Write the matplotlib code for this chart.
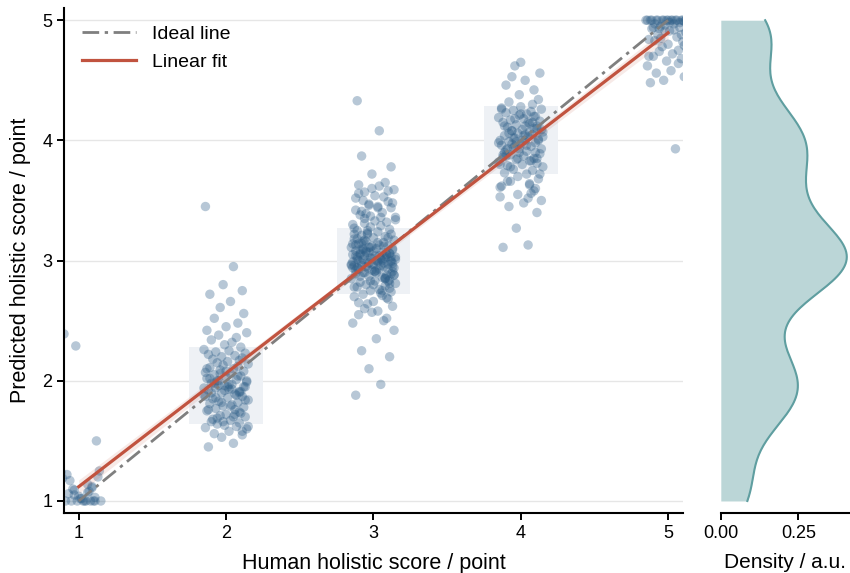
import matplotlib
matplotlib.use('Agg')

import numpy as np
import matplotlib.pyplot as plt
import seaborn as sns

plt.rcParams['font.family'] = ['Liberation Sans', 'DejaVu Sans']

# Human holistic scores (x categories)
scores = [1, 2, 3, 4, 5]

# horizontal jitter of each point, shared by all groups
jitter = [
    -0.12, 0.05, -0.03, 0.11, -0.08, 0.02, 0.14, -0.14, 0.07, -0.01,
    0.09, -0.10, 0.03, -0.06, 0.13, -0.04, 0.00, 0.10, -0.13, 0.06,
    -0.07, 0.12, -0.02, 0.04, -0.11, 0.08, -0.05, 0.15, -0.09, 0.01,
    0.11, -0.15, 0.06, -0.03, 0.09, -0.12, 0.02, -0.07, 0.13, -0.01,
    0.04, -0.10, 0.14, -0.05, 0.07, -0.13, 0.00, 0.10, -0.08, 0.03,
    -0.14, 0.12, -0.04, 0.05, -0.11, 0.08, -0.02, 0.15, -0.06, 0.01,
    0.09, -0.09, 0.11, -0.03, 0.06, -0.12, 0.13, -0.07, 0.02, -0.15,
    0.10, -0.01, 0.04, -0.10, 0.07, -0.05, 0.14, -0.13, 0.00, 0.08,
    -0.08, 0.12, -0.04, 0.03, -0.11, 0.11, -0.02, 0.05, -0.14, 0.09,
    0.01, -0.06, 0.15, -0.09, 0.06, -0.12, 0.03, -0.03, 0.13, -0.07,
    0.07, -0.10, 0.10, -0.01, 0.04, -0.15, 0.12, -0.05, 0.02, -0.08,
    0.14, -0.11, 0.08, -0.04, 0.00, -0.13, 0.11, -0.06, 0.05, -0.02,
    0.09, -0.14, 0.06, -0.09, 0.13, -0.03, 0.01, -0.12, 0.10, -0.07,
    0.03, -0.10, 0.15, -0.05, 0.08, -0.01, 0.12, -0.08, 0.04, -0.11,
    0.06, -0.13, 0.11, -0.02, 0.08, -0.09, 0.14, -0.06, 0.01, -0.12,
    0.10, -0.04, 0.13, -0.08, 0.05, -0.15, 0.07, -0.03, 0.12, -0.10,
    0.02, -0.07, 0.15, -0.01, 0.09, -0.11, 0.04, -0.14, 0.11, -0.05,
    0.00, -0.09, 0.13, -0.02, 0.07, -0.12, 0.03, -0.06, 0.10, -0.13,
    -0.04, 0.08, -0.11, 0.05, -0.07, 0.12, -0.01, 0.09, -0.14, 0.03,
    0.05, -0.08, 0.12, -0.03, 0.10, -0.12, 0.01, -0.06, 0.14, -0.10,
]

# Predicted holistic scores per human score group
pred_1 = [1.24, 1.00, 1.05, 1.00, 1.22, 1.02, 1.25, 1.26, 1.08, 1.00,
          1.12, 2.39, 1.00, 1.17, 1.20, 1.10, 1.04, 1.00, 1.21, 1.14,
          1.06, 1.50, 2.29, 1.00, 1.19,
          1.00, 1.00, 1.00, 1.00, 1.02, 1.03, 1.05, 1.07, 1.09, 1.11]

pred_2 = [1.45, 1.48, 1.53, 1.55, 1.56, 1.58, 1.60, 1.61, 1.62, 1.63,
          1.65, 1.66, 1.67, 1.69, 1.70, 1.71, 1.72, 1.73, 1.75, 1.76,
          1.77, 1.78, 1.79, 1.80, 1.81, 1.82, 1.83, 1.84, 1.85, 1.86,
          1.87, 1.88, 1.89, 1.90, 1.91, 1.92, 1.93, 1.94, 1.95, 1.96,
          1.97, 1.98, 1.99, 2.00, 2.01, 2.02, 2.03, 2.04, 2.05, 2.06,
          2.07, 2.08, 2.09, 2.10, 2.11, 2.12, 2.13, 2.14, 2.15, 2.16,
          2.17, 2.18, 2.19, 2.20, 2.21, 2.22, 2.23, 2.24, 2.25, 2.26,
          2.28, 2.30, 2.32, 2.34, 2.36, 2.38, 2.40, 2.42, 2.45, 2.48,
          2.52, 2.56, 2.61, 2.66, 2.72, 2.75, 2.80, 2.95, 3.45, 1.90,
          1.95, 2.00,
          1.62, 1.68, 1.72, 1.76, 1.79, 1.82, 1.84, 1.86, 1.88, 1.90,
          1.91, 1.92, 1.93, 1.94, 1.95, 1.96, 1.97, 1.98, 2.00, 2.02,
          2.04, 2.06, 2.08, 2.10, 1.58, 1.64, 1.70, 1.66, 1.74, 1.87]

pred_3 = [1.88, 1.97, 2.10, 2.20, 2.25, 2.35, 2.42, 2.48, 2.50, 2.57,
          2.52, 2.55, 2.58, 2.60, 2.62, 2.64, 2.66, 2.68, 2.70, 2.71,
          2.72, 2.74, 2.75, 2.76, 2.78, 2.79, 2.80, 2.81, 2.82, 2.83,
          2.84, 2.85, 2.86, 2.87, 2.88, 2.89, 2.90, 2.90, 2.91, 2.92,
          2.93, 2.93, 2.94, 2.95, 2.95, 2.96, 2.97, 2.97, 2.98, 2.99,
          2.99, 3.00, 3.00, 3.01, 3.01, 3.02, 3.02, 3.03, 3.04, 3.04,
          3.05, 3.05, 3.06, 3.07, 3.07, 3.08, 3.09, 3.09, 3.10, 3.11,
          3.12, 3.12, 3.13, 3.14, 3.15, 3.16, 3.17, 3.18, 3.19, 3.20,
          3.21, 3.22, 3.23, 3.24, 3.25, 3.26, 3.28, 3.29, 3.30, 3.32,
          3.33, 3.35, 3.36, 3.38, 3.40, 3.42, 3.44, 3.46, 3.48, 3.50,
          3.53, 3.56, 3.58, 3.60, 3.62, 2.96, 3.03, 3.08, 2.92, 3.14,
          2.88, 3.18, 2.85, 3.22, 2.80, 3.27, 2.77, 3.31, 2.73, 3.37,
          2.69, 2.94, 3.00, 3.06, 2.98, 3.11, 2.91, 3.04, 2.83, 3.16,
          3.45, 2.65, 3.34, 3.39, 3.65, 3.72, 3.78, 3.87, 4.08, 4.33,
          2.75, 2.78, 2.81, 2.83, 2.85, 2.87, 2.88, 2.90, 2.91, 2.92,
          2.93, 2.94, 2.95, 2.96, 2.96, 2.97, 2.98, 2.98, 2.99, 3.00,
          3.00, 3.01, 3.01, 3.02, 3.03, 3.03, 3.04, 3.05, 3.06, 3.07,
          3.08, 3.09, 3.10, 3.11, 3.12, 3.13, 3.15, 3.17, 3.19, 3.22,
          3.25, 2.86, 2.94, 3.02, 3.10, 2.89, 2.97, 3.05, 3.14, 3.00,
          3.36, 3.41, 3.44, 3.47, 3.49, 3.52, 3.54, 3.57, 3.59, 3.63]

pred_4 = [3.11, 3.13, 3.27, 3.40, 3.45, 3.48, 3.50, 3.53, 3.56, 4.38,
          4.42, 4.46, 4.50, 4.53, 4.56, 4.62, 4.65,
          3.60, 3.62, 3.64, 3.66, 3.68, 3.70, 3.72, 3.73, 3.75, 3.76,
          3.78, 3.79, 3.80, 3.81, 3.82, 3.83, 3.84, 3.85, 3.86, 3.87,
          3.88, 3.89, 3.90, 3.91, 3.92, 3.93, 3.94, 3.95, 3.96, 3.97,
          3.98, 3.99, 4.00, 4.00, 4.01, 4.02, 4.03, 4.04, 4.05, 4.06,
          4.07, 4.08, 4.09, 4.10, 4.11, 4.12, 4.13, 4.14, 4.15, 4.16,
          4.17, 4.18, 4.19, 4.20, 4.21, 4.22, 4.23, 4.24, 4.25, 4.26,
          4.27, 4.28, 4.30, 4.32, 4.34, 3.95, 4.05, 3.90, 4.10, 3.85,
          4.15, 3.80, 4.20, 4.00, 3.97, 4.03, 3.93, 4.07, 3.88, 4.12,
          3.99,
          3.72, 3.78, 3.83, 3.87, 3.90, 3.93, 3.96, 3.98, 4.00, 4.02,
          4.04, 4.06, 4.09, 4.12, 4.15, 4.18, 4.22, 4.26, 3.85, 4.08,
          3.52, 3.55, 3.58, 3.61, 3.63, 3.66]

pred_5 = [4.48, 3.93, 4.50, 4.53, 4.56, 4.58, 4.60, 4.62, 4.64, 4.66,
          4.68, 4.70, 4.72, 4.74, 4.76, 4.78, 4.80, 4.82, 4.84, 4.86,
          4.88, 4.90, 4.91, 4.92, 4.93, 4.94, 4.95, 4.96, 4.97, 4.98,
          4.99, 5.00, 5.00, 5.00, 5.00, 5.00, 5.00, 5.00, 5.00, 5.00,
          4.97, 4.94, 4.89, 4.85, 4.75, 4.70, 5.00, 5.00,
          5.00, 5.00, 5.00, 5.00, 5.00, 5.00, 5.00, 4.98, 4.96, 4.95,
          4.93, 4.91, 4.88, 4.83, 4.79]

groups = [pred_1, pred_2, pred_3, pred_4, pred_5]

# shaded bands behind the middle groups (score, low, high)
band_scores = [2, 3, 4]
band_low = [1.64, 2.72, 3.72]
band_high = [2.28, 3.27, 4.29]

dot_color = '#2c5d87'
fit_color = '#c1533f'
kde_color = '#5f9ea0'

x_all = np.concatenate([s + np.array(jitter[:len(g)]) for s, g in zip(scores, groups)])
y_all = np.concatenate([np.array(g) for g in groups])
x_true = np.concatenate([np.full(len(g), s, dtype=float) for s, g in zip(scores, groups)])

fig = plt.figure(figsize=(8.5, 5.73), dpi=100)
ax = fig.add_axes([0.0753, 0.1047, 0.728, 0.881])
ax2 = fig.add_axes([0.848, 0.1047, 0.152, 0.881], sharey=ax)

# horizontal grid
for t in [1, 2, 3, 4, 5]:
    ax.axhline(t, color='#e6e6e6', lw=1, zorder=0)

# shaded bands
for s, lo, hi in zip(band_scores, band_low, band_high):
    ax.fill_between([s - 0.25, s + 0.25], lo, hi, color='#eef1f5', lw=0, zorder=0.5)

ax.scatter(x_all, y_all, s=46, color=dot_color, alpha=0.34, edgecolors='none', zorder=2)

# ideal line
ax.plot([1, 5], [1, 5], color='#7f7f7f', lw=2, dashes=[6, 2, 1.2, 2],
        label='Ideal line', zorder=3)

# linear fit with 95% CI
slope, intercept = np.polyfit(x_true, y_all, 1)
xf = np.linspace(1, 5, 100)
yf = slope * xf + intercept
resid = y_all - (slope * x_true + intercept)
n = len(y_all)
s_err = np.sqrt(np.sum(resid ** 2) / (n - 2))
se = s_err * np.sqrt(1 / n + (xf - x_true.mean()) ** 2 / np.sum((x_true - x_true.mean()) ** 2))
ax.fill_between(xf, yf - 1.96 * se, yf + 1.96 * se, color=fit_color, alpha=0.12, lw=0, zorder=3)
ax.plot(xf, yf, color=fit_color, lw=2.3, label='Linear fit', zorder=4)

ax.set_xlim(0.9, 5.1)
ax.set_ylim(0.9, 5.1)
ax.set_xticks([1, 2, 3, 4, 5])
ax.set_yticks([1, 2, 3, 4, 5])
ax.set_xlabel('Human holistic score / point', fontsize=15.5, labelpad=8)
ax.set_ylabel('Predicted holistic score / point', fontsize=15.5, labelpad=8)
ax.tick_params(labelsize=13, length=5, width=1.4, direction='out')
for side in ['top', 'right']:
    ax.spines[side].set_visible(False)
for side in ['left', 'bottom']:
    ax.spines[side].set_linewidth(1.5)

leg = ax.legend(loc='upper left', frameon=False, fontsize=14, handlelength=2.8,
                borderaxespad=0.5, bbox_to_anchor=(0.0, 1.0))

# density panel
sns.kdeplot(y=y_all, ax=ax2, fill=True, cut=0, bw_adjust=0.9, color=kde_color,
            alpha=0.42, linewidth=0)
sns.kdeplot(y=y_all, ax=ax2, fill=False, cut=0, bw_adjust=0.9, color=kde_color,
            linewidth=1.5)
ax2.set_xlim(0, 0.417)
ax2.set_xticks([0, 0.25])
ax2.set_xticklabels(['0.00', '0.25'])
ax2.set_xlabel('Density / a.u.', fontsize=15, labelpad=8)
ax2.set_ylabel('')
ax2.tick_params(axis='x', labelsize=13, length=5, width=1.4)
ax2.tick_params(axis='y', left=False, labelleft=False)
for side in ['top', 'right', 'left']:
    ax2.spines[side].set_visible(False)
ax2.spines['bottom'].set_linewidth(1.5)

fig.savefig('out.png', dpi=100)
